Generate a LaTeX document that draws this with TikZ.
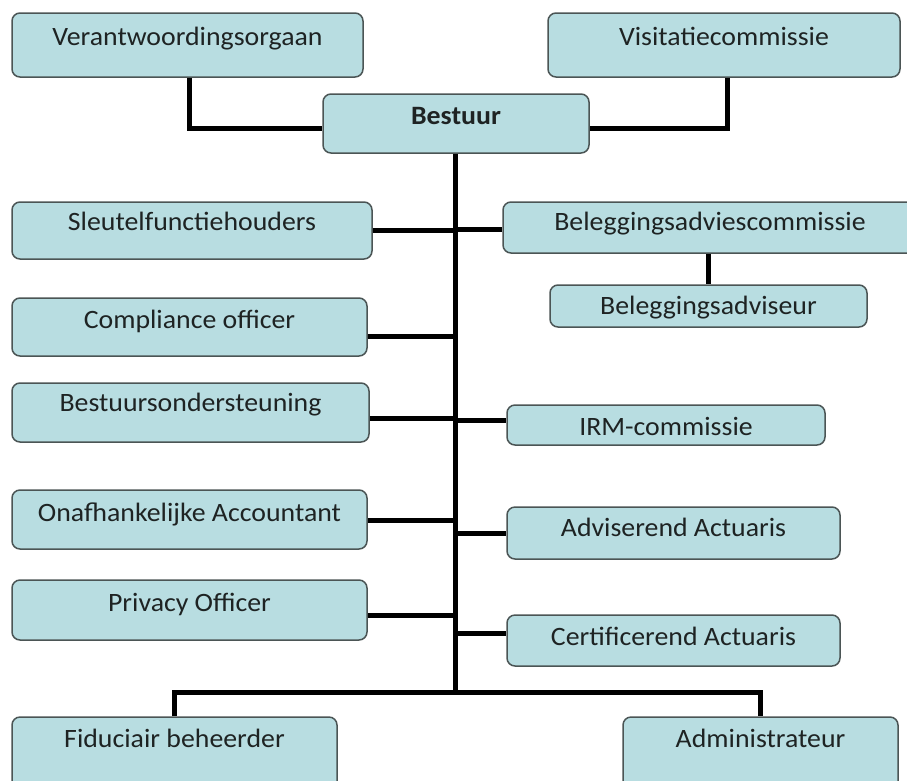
\documentclass[tikz,border=0pt]{standalone}
\usepackage{fontspec}
\setmainfont{Carlito}[FakeStretch=1.05]
\definecolor{boxfill}{RGB}{184,221,225}
\definecolor{boxdraw}{RGB}{75,85,85}
\definecolor{txt}{RGB}{30,35,35}
\tikzset{
  orgbox/.style={draw=boxdraw, line width=1.5pt, fill=boxfill, rounded corners=8pt, inner sep=0pt},
  lbl/.style={font=\fontsize{26.5}{30}\selectfont, text=txt, anchor=base, inner sep=0pt},
  conn/.style={line width=5pt, draw=black}
}
% name, x1, y1, x2, y2, baseline y, text
\newcommand\mkbox[7]{%
  \node[orgbox, minimum width={(#4-#2)*1pt}, minimum height={(#5-#3)*1pt}] (#1) at ({(#2+#4)/2},{(#3+#5)/2}) {};
  \node[lbl] (#1-t) at ({(#2+#4)/2},#6) {#7};
}
\begin{document}
\begin{tikzpicture}[x=1pt,y=-1pt]
\useasboundingbox (0,0) rectangle (907,780);
\clip (0,0) rectangle (907,780);

% connectors first (behind boxes)
\coordinate (tl) at (189,128);
\coordinate (tr) at (727,128);
\coordinate (hbar) at (455,692);
\coordinate (j1) at (455,230);
\coordinate (j2) at (455,336);
\coordinate (j3) at (455,418);
\coordinate (j4) at (455,520);
\coordinate (j5) at (455,615);
\coordinate (k1) at (455,229);
\coordinate (k2) at (455,420);
\coordinate (k3) at (455,533);
\coordinate (k4) at (455,633);

% boxes
\mkbox{verant}{12}{13}{363}{77}{45}{Verantwoordingsorgaan}
\mkbox{visit}{548}{13}{900}{77}{45}{Visitatiecommissie}
\mkbox{bestuur}{323}{94}{589}{153}{124.5}{\textbf{Bestuur}}
\mkbox{sleutel}{12}{202}{372}{259}{230.5}{Sleutelfunctiehouders}
\mkbox{beleg}{503}{202}{917}{253}{230.5}{Beleggingsadviescommissie}
\mkbox{adviseur}{550}{285}{867}{327}{314.5}{Beleggingsadviseur}
\mkbox{compl}{12}{298}{367}{356}{328.5}{Compliance officer}
\mkbox{bo}{12}{383}{369}{442}{411.5}{Bestuursondersteuning}
\mkbox{irm}{507}{405}{825}{445}{435.5}{IRM-commissie}
\mkbox{acc}{12}{490}{367}{549}{521.5}{Onafhankelijke Accountant}
\mkbox{adv}{507}{507}{840}{559}{536.5}{Adviserend Actuaris}
\mkbox{priv}{12}{580}{367}{640}{611.5}{Privacy Officer}
\mkbox{cert}{507}{615}{840}{666}{645.5}{Certificerend Actuaris}
\mkbox{fid}{12}{717}{337}{800}{747}{Fiduciair beheerder}
\mkbox{adm}{623}{717}{898}{800}{747}{Administrateur}

% connectors
\draw[conn] (verant.south -| tl) -- (tl) -- (tl -| bestuur.west);
\draw[conn] (visit.south -| tr) -- (tr) -- (tr -| bestuur.east);
\draw[conn] (bestuur.south -| hbar) -- (hbar);
\draw[conn] (fid.north) |- (adm.north |- hbar) -- (adm.north);
\draw[conn] (sleutel.east |- j1) -- (j1);
\draw[conn] (compl.east |- j2) -- (j2);
\draw[conn] (bo.east |- j3) -- (j3);
\draw[conn] (acc.east |- j4) -- (j4);
\draw[conn] (priv.east |- j5) -- (j5);
\draw[conn] (k1) -- (beleg.west |- k1);
\draw[conn] (k2) -- (irm.west |- k2);
\draw[conn] (k3) -- (adv.west |- k3);
\draw[conn] (k4) -- (cert.west |- k4);
\draw[conn] (beleg.south -| adviseur.north) -- (adviseur.north);
\end{tikzpicture}
\end{document}
